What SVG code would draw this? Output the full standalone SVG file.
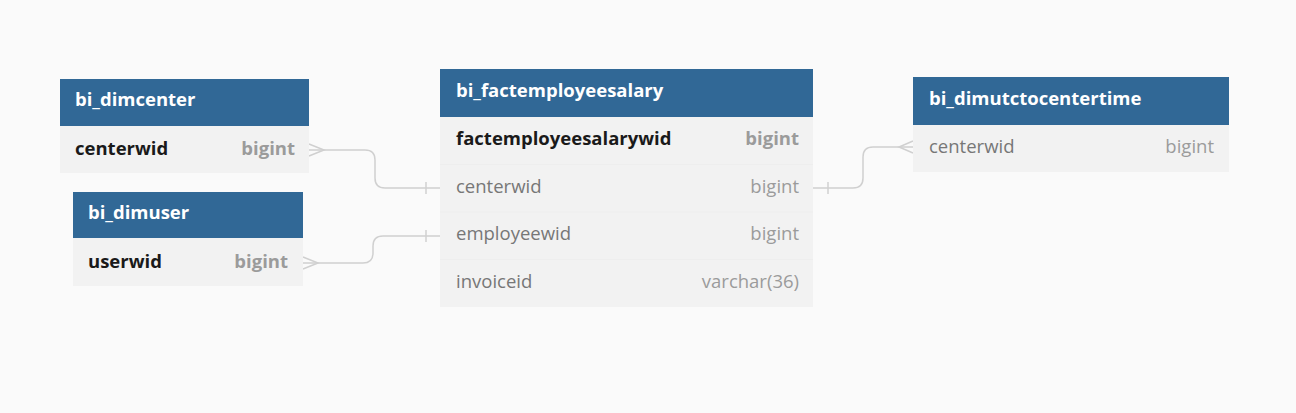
<svg xmlns="http://www.w3.org/2000/svg" width="1296" height="413" viewBox="0 0 1296 413">
<style>
.hdr{fill:#316896}
.row{fill:#f2f2f2}
.sep{stroke:#eeeeee;stroke-width:1}
.title{font-family:"Open Sans","Noto Sans",sans-serif;font-size:18.5px;font-weight:700;fill:#ffffff}
.pk{font-family:"Open Sans","Noto Sans",sans-serif;font-size:18.5px;font-weight:700;fill:#1a1a1a}
.pkt{font-family:"Open Sans","Noto Sans",sans-serif;font-size:18.5px;font-weight:700;fill:#9b9b9b;text-anchor:end}
.f{font-family:"Open Sans","Noto Sans",sans-serif;font-size:18.5px;fill:#777777}
.ft{font-family:"Open Sans","Noto Sans",sans-serif;font-size:18.5px;fill:#9b9b9b;text-anchor:end}
.c{fill:none;stroke:#d0d0d0;stroke-width:1.5}
</style>
<rect width="1296" height="413" fill="#fafafa"/>
<g id="connectors">
<path class="c" d="M309 150 H365 Q375 150 375 160 V178 Q375 188 385 188 H440"/>
<path class="c" d="M309 144 L324 150 L309 156"/>
<path class="c" d="M426 182 V194"/>
<path class="c" d="M303 263 H363 Q373 263 373 253 V246 Q373 236 383 236 H440"/>
<path class="c" d="M303 257 L318 263 L303 269"/>
<path class="c" d="M426 230 V242"/>
<path class="c" d="M813 188 H853 Q863 188 863 178 V157 Q863 147 873 147 H913"/>
<path class="c" d="M913 141 L899 147 L913 153"/>
<path class="c" d="M828 182 V194"/>
</g>
<g id="bi_dimcenter">
<rect class="hdr" x="60" y="79" width="249" height="47"/>
<rect class="row" x="60" y="126" width="249" height="47"/>
<text class="title" x="75" y="106">bi_dimcenter</text>
<text class="pk" x="75" y="155">centerwid</text>
<text class="pkt" x="295" y="155">bigint</text>
</g>
<g id="bi_dimuser">
<rect class="hdr" x="73" y="192" width="230" height="46"/>
<rect class="row" x="73" y="238" width="230" height="48"/>
<text class="title" x="88" y="219">bi_dimuser</text>
<text class="pk" x="88" y="268">userwid</text>
<text class="pkt" x="288" y="268">bigint</text>
</g>
<g id="bi_factemployeesalary">
<rect class="hdr" x="440" y="69" width="373" height="48"/>
<rect class="row" x="440" y="117" width="373" height="190"/>
<line class="sep" x1="440" y1="164.5" x2="813" y2="164.5"/>
<line class="sep" x1="440" y1="212" x2="813" y2="212"/>
<line class="sep" x1="440" y1="259.5" x2="813" y2="259.5"/>
<text class="title" x="456" y="97">bi_factemployeesalary</text>
<text class="pk" x="456" y="145">factemployeesalarywid</text>
<text class="pkt" x="799" y="145">bigint</text>
<text class="f" x="456" y="193">centerwid</text>
<text class="ft" x="799" y="193">bigint</text>
<text class="f" x="456" y="240">employeewid</text>
<text class="ft" x="799" y="240">bigint</text>
<text class="f" x="456" y="288">invoiceid</text>
<text class="ft" x="799" y="288">varchar(36)</text>
</g>
<g id="bi_dimutctocentertime">
<rect class="hdr" x="913" y="77" width="316" height="48"/>
<rect class="row" x="913" y="125" width="316" height="47"/>
<text class="title" x="929" y="105">bi_dimutctocentertime</text>
<text class="f" x="929" y="153">centerwid</text>
<text class="ft" x="1214" y="153">bigint</text>
</g>
</svg>
